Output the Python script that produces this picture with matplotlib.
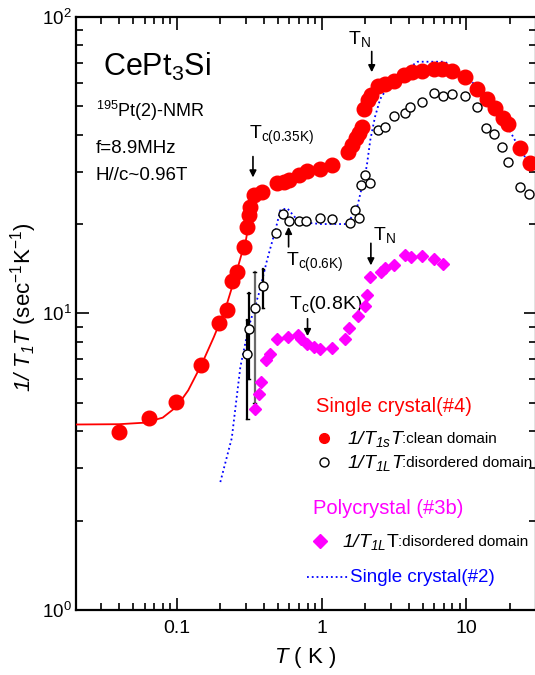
import numpy as np
import matplotlib
matplotlib.use("Agg")
import matplotlib.pyplot as plt
from matplotlib.ticker import NullFormatter

plt.rcParams['font.family'] = ['Liberation Sans', 'DejaVu Sans']
plt.rcParams['mathtext.fontset'] = 'custom'
plt.rcParams['mathtext.rm'] = 'Liberation Sans'
plt.rcParams['mathtext.it'] = 'Liberation Sans:italic'
plt.rcParams['mathtext.bf'] = 'Liberation Sans:bold'
# sf slot used for fully italic formulas (digits included)
plt.rcParams['mathtext.sf'] = 'Liberation Sans:italic'

# single crystal #4, clean domain (1/T1sT)
T_clean = [0.04, 0.064, 0.099, 0.147, 0.197, 0.222, 0.24, 0.26, 0.29, 0.305, 0.314, 0.322,
           0.34, 0.388, 0.492, 0.547, 0.592, 0.694, 0.792, 0.98, 1.18, 1.53, 1.62, 1.72,
           1.82, 1.9, 1.97, 2.1, 2.2, 2.47, 2.75, 3.14, 3.68, 4.19, 4.92, 5.93, 6.76, 7.93,
           9.78, 11.8, 13.8, 15.8, 17.9, 19.4, 23.4, 27.4]
v_clean = [3.97, 4.43, 5.03, 6.69, 9.3, 10.3, 12.9, 13.8, 16.8, 19.6, 21.4, 22.9,
           25.0, 25.7, 27.4, 27.8, 28.2, 29.2, 30.3, 30.7, 31.6, 35.0, 37.0, 39.0,
           40.5, 42.5, 49.0, 52.5, 54.5, 58.5, 59.5, 60.5, 63.6, 65.0, 65.5, 66.5, 66.5, 65.5,
           62.6, 56.9, 52.6, 49.1, 45.4, 43.5, 36.0, 32.0]

# fit curve through the clean-domain points
T_fit = [0.02, 0.04, 0.06, 0.08, 0.1, 0.12, 0.15, 0.18, 0.2, 0.22, 0.25, 0.28, 0.3, 0.32]
v_fit = [4.22, 4.23, 4.28, 4.45, 4.85, 5.5, 6.8, 8.3, 9.4, 10.6, 13.0, 15.8, 17.6, 21.0]

# single crystal #4, disordered domain (1/T1LT)
T_dis = [0.307, 0.314, 0.345, 0.394, 0.487, 0.541, 0.592, 0.694, 0.784, 0.98, 1.18, 1.56,
         1.71, 1.8, 1.88, 2.0, 2.17, 2.47, 2.75, 3.14, 3.74, 4.09, 4.92, 5.93, 6.93, 7.93,
         9.78, 11.8, 13.7, 15.6, 17.7, 19.4, 23.4, 27.2]
v_dis = [7.27, 8.83, 10.4, 12.4, 18.7, 21.6, 20.5, 20.5, 20.4, 20.9, 20.8, 20.2,
         22.3, 21.0, 27.1, 29.2, 27.4, 41.5, 42.6, 46.2, 47.5, 49.6, 51.5, 55.1, 53.9, 54.8,
         53.9, 49.7, 42.0, 40.1, 36.5, 32.3, 26.6, 25.2]
# error bars of the first four disordered points (lower, upper limits)
err_lo = [4.4, 6.0, 5.0, 10.4]
err_hi = [9.5, 11.7, 13.8, 14.1]
err_col = ['black', 'black', 'dimgray', 'black']

# polycrystal #3b, disordered domain
T_poly = [0.345, 0.372, 0.384, 0.413, 0.443, 0.492, 0.586, 0.686, 0.724, 0.792, 0.88, 0.98,
          1.18, 1.44, 1.55, 1.78, 1.98, 2.05, 2.17, 2.58, 2.75, 3.14, 3.74, 4.15, 4.92,
          5.93, 6.86]
v_poly = [4.75, 5.35, 5.88, 6.96, 7.3, 8.19, 8.34, 8.45, 8.18, 7.86, 7.7, 7.6,
          7.65, 8.17, 8.95, 9.82, 10.6, 11.5, 13.3, 13.8, 14.2, 14.5, 15.7, 15.5, 15.6,
          15.3, 14.7]

# single crystal #2 (dotted)
T_sc2 = [0.2, 0.24, 0.275, 0.314, 0.37, 0.42, 0.48, 0.52, 0.58, 0.7, 1.0, 1.5, 1.75, 1.9,
         2.05, 2.17, 2.34, 2.54, 3.0, 3.8, 4.6, 7.1, 8.7, 11.0, 15.3, 21.6, 26.0]
v_sc2 = [2.7, 3.8, 6.6, 9.0, 11.7, 15.1, 19.1, 22.3, 22.6, 20.3, 20.0, 20.0, 22.5, 26.7,
         31.3, 38.4, 46.0, 52.8, 60.0, 66.0, 70.5, 70.5, 66.0, 60.0, 52.4, 38.4, 33.0]

W, H = 535, 675
fig = plt.figure(figsize=(W / 100, H / 100), dpi=100)
ax = fig.add_axes([75.5 / W, 65 / H, 460 / W, 593.3 / H])
ax.set_xscale('log')
ax.set_yscale('log')
ax.set_xlim(0.02, 30)
ax.set_ylim(1, 100)

ax.plot(T_sc2, v_sc2, ':', color='#0000ff', lw=1.3, zorder=2)
ax.plot(T_fit, v_fit, '-', color='red', lw=1.3, zorder=3)
ax.plot(T_clean, v_clean, 'o', color='red', ms=10.5, mec='red', zorder=4)
for i in range(4):
    ax.plot([T_dis[i], T_dis[i]], [err_lo[i], err_hi[i]], color=err_col[i], lw=1.6, zorder=4)
    ax.plot([T_dis[i] / 1.02, T_dis[i] * 1.02], [err_lo[i]] * 2, color='black', lw=1, zorder=4)
    ax.plot([T_dis[i] / 1.02, T_dis[i] * 1.02], [err_hi[i]] * 2, color='black', lw=1, zorder=4)
ax.plot(T_dis, v_dis, 'o', mfc='white', mec='black', ms=6.5, mew=1.0, zorder=5)
ax.plot(T_poly, v_poly, 'D', color='#ff00ff', ms=6.5, zorder=4)

ax.set_xticks([0.1, 1, 10])
ax.set_xticklabels(['0.1', '1', '10'])
ax.xaxis.set_minor_formatter(NullFormatter())
ax.tick_params(which='both', direction='in', top=True, right=True, labelsize=14, width=1.2)
ax.tick_params(which='major', length=9)
ax.tick_params(which='minor', length=5)
ax.tick_params(axis='x', which='major', pad=7)
ax.tick_params(axis='y', which='major', pad=2.5, labelsize=13.5)
for s in ax.spines.values():
    s.set_linewidth(1.6)

ax.set_xlabel(r'$T$ ( K )', fontsize=16, labelpad=6)
ax.set_ylabel(r'$\mathsf{1/\ T_1T}$ (sec$^{-1}$K$^{-1}$)', fontsize=16)
ax.yaxis.set_label_coords(-0.08, 0.51)

# annotations with arrows
arr = dict(arrowstyle='-|>', color='black', lw=1.2, mutation_scale=10)
ax.annotate('', xy=(0.336, 28.1), xytext=(0.336, 34.5), arrowprops=arr)
ax.text(0.314, 36.5, r'T$_{\mathrm{c(0.35K)}}$', fontsize=14, va='bottom')
ax.annotate('', xy=(2.22, 63.6), xytext=(2.22, 78), arrowprops=arr)
ax.text(1.53, 78, r'T$_\mathrm{N}$', fontsize=14, va='bottom')
ax.annotate('', xy=(0.592, 20.0), xytext=(0.592, 16.4), arrowprops=arr)
ax.text(0.565, 16.3, r'T$_{\mathrm{c(0.6K)}}$', fontsize=14, va='top')
ax.annotate('', xy=(0.8, 8.2), xytext=(0.8, 9.8), arrowprops=arr)
ax.text(0.592, 9.9, r'T$_\mathrm{c}$(0.8K)', fontsize=14, va='bottom')
ax.annotate('', xy=(2.19, 14.2), xytext=(2.19, 17.6), arrowprops=arr)
ax.text(2.28, 17.0, r'T$_\mathrm{N}$', fontsize=14, va='bottom')

def fx(px):
    return px / W

def fy(py):
    return 1 - py / H

fig.text(fx(103), fy(76), r'CePt$_3$Si', fontsize=22, va='baseline')
fig.text(fx(96), fy(117), r'$^{195}$Pt(2)-NMR', fontsize=13, va='baseline')
fig.text(fx(96), fy(153), 'f=8.9MHz', fontsize=13.5, va='baseline')
fig.text(fx(96), fy(180), 'H//c~0.96T', fontsize=13.5, va='baseline')

# legend block
fig.text(fx(316), fy(406), 'Single crystal(#4)', fontsize=14.5, color='red', va='center')
ax.plot([fx(324)], [fy(438)], 'o', color='red', ms=7, transform=fig.transFigure, clip_on=False)
fig.text(fx(347), fy(439), r'$\mathsf{1/T_{1s}T}$', fontsize=14, va='center')
fig.text(fx(402), fy(439), ':clean domain', fontsize=11, va='center')
ax.plot([fx(324)], [fy(462)], 'o', mfc='white', mec='black', ms=6.5, mew=1,
        transform=fig.transFigure, clip_on=False)
fig.text(fx(347), fy(463), r'$\mathsf{1/T_{1L}T}$', fontsize=14, va='center')
fig.text(fx(402), fy(463), ':disordered domain', fontsize=11, va='center')

fig.text(fx(313), fy(508), 'Polycrystal (#3b)', fontsize=14.5, color='#ff00ff', va='center')
ax.plot([fx(320)], [fy(541)], 'D', color='#ff00ff', ms=7, transform=fig.transFigure, clip_on=False)
fig.text(fx(342), fy(542), r'$\mathsf{1/T_{1L}}$T', fontsize=14, va='center')
fig.text(fx(398), fy(542), ':disordered domain', fontsize=11, va='center')

ax.plot([fx(307), fx(348)], [fy(577), fy(577)], ':', color='#0000ff', lw=1.3,
        transform=fig.transFigure, clip_on=False)
fig.text(fx(350), fy(578), 'Single crystal(#2)', fontsize=13.5, color='#0000ff', va='center')

fig.savefig('out.png', dpi=100)
